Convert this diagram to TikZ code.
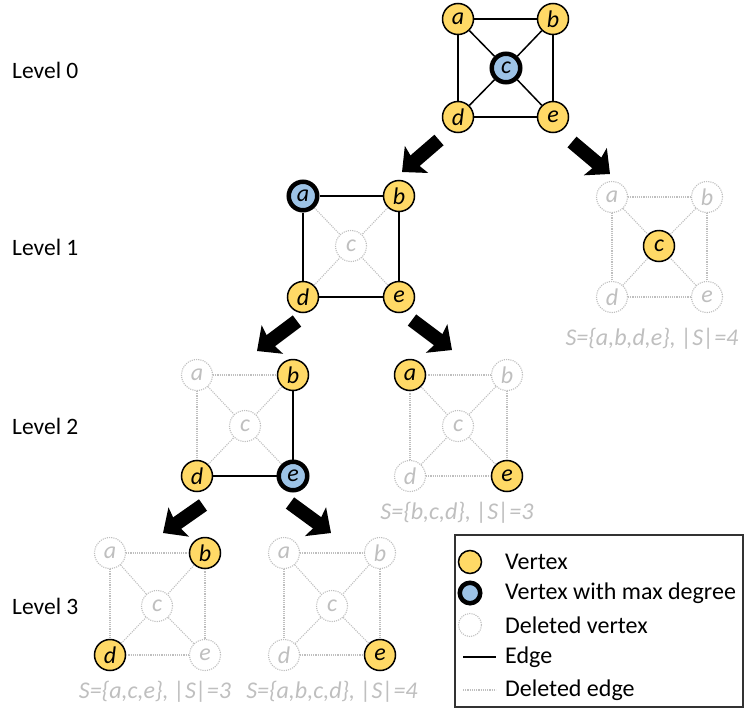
\documentclass[tikz,border=0pt]{standalone}
\usepackage{fontspec}
\setmainfont{Carlito}
\usetikzlibrary{arrows.meta}

\definecolor{vyellow}{HTML}{FFD966}
\definecolor{vblue}{HTML}{9DC3E6}
\definecolor{delgray}{HTML}{BFBFBF}

\tikzstyle{vertex} = [circle, draw=black, line width=1.5pt, fill=vyellow, minimum size=31pt, inner sep=0pt, font=\fontsize{24}{26}\selectfont\itshape]
\tikzstyle{maxvertex} = [vertex, fill=vblue, line width=4.5pt, minimum size=28.5pt]
\tikzstyle{delvertex} = [vertex, draw=delgray, fill=none, line width=1.1pt, dash pattern=on 1.1pt off 1.1pt, text=delgray]
\tikzstyle{edge} = [line width=1.5pt]
\tikzstyle{deledge} = [draw=delgray, line width=1.1pt, dash pattern=on 1.1pt off 1.1pt]
\tikzstyle{bigarrow} = [line width=14pt, -{Stealth[length=19pt, width=35pt, inset=3pt]}]
\tikzstyle{level} = [anchor=west, inner sep=0pt, font=\fontsize{23.5}{26}\selectfont]
\tikzstyle{caption} = [inner sep=0pt, text=delgray, font=\fontsize{24}{26}\selectfont\itshape]
\tikzstyle{legendtext} = [anchor=west, inner sep=0pt, font=\fontsize{24}{26}\selectfont]

\begin{document}
\begin{tikzpicture}[x=1pt, y=-1pt]
    \useasboundingbox (0,0) rectangle (747,715);

    % Levels
    \node (lvl0) [level] at (12,70) {Level 0};
    \node (lvl1) [level] at (12,247) {Level 1};
    \node (lvl2) [level] at (12,426) {Level 2};
    \node (lvl3) [level] at (12,606) {Level 3};

    % Level 0
    \node (g0a) [vertex] at (458,19) {a};
    \node (g0b) [vertex] at (553,19) {b};
    \node (g0c) [maxvertex] at (506,68) {c};
    \node (g0d) [vertex] at (458,117) {d};
    \node (g0e) [vertex] at (553,117) {e};
    \foreach \u/\v in {a/b, a/d, b/e, d/e, a/c, b/c, d/c, e/c}
        \draw [edge] (g0\u) -- (g0\v);

    % Level 1, left
    \node (g1a) [maxvertex] at (303,196) {a};
    \node (g1b) [vertex] at (399,196) {b};
    \node (g1c) [delvertex] at (351,246) {c};
    \node (g1d) [vertex] at (303,297) {d};
    \node (g1e) [vertex] at (399,297) {e};
    \foreach \u/\v/\s in {a/b/edge, a/d/edge, b/e/edge, d/e/edge, a/c/deledge, b/c/deledge, d/c/deledge, e/c/deledge}
        \draw [\s] (g1\u) -- (g1\v);

    % Level 1, right
    \node (h1a) [delvertex] at (612,197) {a};
    \node (h1b) [delvertex] at (707,197) {b};
    \node (h1c) [vertex] at (659,246) {c};
    \node (h1d) [delvertex] at (612,297) {d};
    \node (h1e) [delvertex] at (707,297) {e};
    \foreach \u/\v in {a/b, a/d, b/e, d/e, a/c, b/c, d/c, e/c}
        \draw [deledge] (h1\u) -- (h1\v);
    \node (h1s) [caption] at (652,339) {S=\{a,b,d,e\}, |S|=4};

    % Level 2, left
    \node (g2a) [delvertex] at (197,375) {a};
    \node (g2b) [vertex] at (293,375) {b};
    \node (g2c) [delvertex] at (245,426) {c};
    \node (g2d) [vertex] at (197,476) {d};
    \node (g2e) [maxvertex] at (293,476) {e};
    \foreach \u/\v/\s in {a/b/deledge, a/d/deledge, b/e/edge, d/e/edge, a/c/deledge, b/c/deledge, d/c/deledge, e/c/deledge}
        \draw [\s] (g2\u) -- (g2\v);

    % Level 2, right
    \node (h2a) [vertex] at (410,375) {a};
    \node (h2b) [delvertex] at (507,375) {b};
    \node (h2c) [delvertex] at (458,426) {c};
    \node (h2d) [delvertex] at (410,476) {d};
    \node (h2e) [vertex] at (507,476) {e};
    \foreach \u/\v in {a/b, a/d, b/e, d/e, a/c, b/c, d/c, e/c}
        \draw [deledge] (h2\u) -- (h2\v);
    \node (h2s) [caption] at (457,513) {S=\{b,c,d\}, |S|=3};

    % Level 3, left
    \node (g3a) [delvertex] at (110,553) {a};
    \node (g3b) [vertex] at (205,553) {b};
    \node (g3c) [delvertex] at (157,606) {c};
    \node (g3d) [vertex] at (110,655) {d};
    \node (g3e) [delvertex] at (205,655) {e};
    \foreach \u/\v in {a/b, a/d, b/e, d/e, a/c, b/c, d/c, e/c}
        \draw [deledge] (g3\u) -- (g3\v);
    \node (g3s) [caption] at (155,692) {S=\{a,c,e\}, |S|=3};

    % Level 3, right
    \node (h3a) [delvertex] at (284,553) {a};
    \node (h3b) [delvertex] at (380,553) {b};
    \node (h3c) [delvertex] at (332,606) {c};
    \node (h3d) [delvertex] at (284,655) {d};
    \node (h3e) [vertex] at (380,655) {e};
    \foreach \u/\v in {a/b, a/d, b/e, d/e, a/c, b/c, d/c, e/c}
        \draw [deledge] (h3\u) -- (h3\v);
    \node (h3s) [caption] at (332,692) {S=\{a,b,c,d\}, |S|=4};

    % Arrows
    \coordinate (t0l) at (439,140);  \coordinate (p0l) at (402,172);
    \coordinate (t0r) at (572,142);  \coordinate (p0r) at (610,174);
    \coordinate (t1l) at (297,321);  \coordinate (p1l) at (257,351);
    \coordinate (t1r) at (412,320);  \coordinate (p1r) at (452,350);
    \coordinate (t2l) at (203,505);  \coordinate (p2l) at (163,533);
    \coordinate (t2r) at (290,503);  \coordinate (p2r) at (331,533);
    \draw [bigarrow] (t0l) -- (p0l);
    \draw [bigarrow] (t0r) -- (p0r);
    \draw [bigarrow] (t1l) -- (p1l);
    \draw [bigarrow] (t1r) -- (p1r);
    \draw [bigarrow] (t2l) -- (p2l);
    \draw [bigarrow] (t2r) -- (p2r);

    % Legend
    \node (legend) [draw=black!80, line width=1.5pt, minimum width=288pt, minimum height=172pt, inner sep=0pt] at (599,621) {};
    \node (lv) [vertex, minimum size=23pt] at (470,562) {};
    \node (lvt) [legendtext] at (505,562) {Vertex};
    \node (lm) [maxvertex, minimum size=20.5pt] at (470,593) {};
    \node (lmt) [legendtext] at (505,593) {Vertex with max degree};
    \node (ld) [delvertex, minimum size=23pt] at (470,625) {};
    \node (ldt) [legendtext] at (505,625) {Deleted vertex};
    \coordinate (le1) at (463,657);  \coordinate (le2) at (496,657);
    \draw [edge] (le1) -- (le2);
    \node (let) [legendtext] at (505,657) {Edge};
    \coordinate (lf1) at (463,690);  \coordinate (lf2) at (496,690);
    \draw [deledge] (lf1) -- (lf2);
    \node (lft) [legendtext] at (505,690) {Deleted edge};

\end{tikzpicture}
\end{document}
